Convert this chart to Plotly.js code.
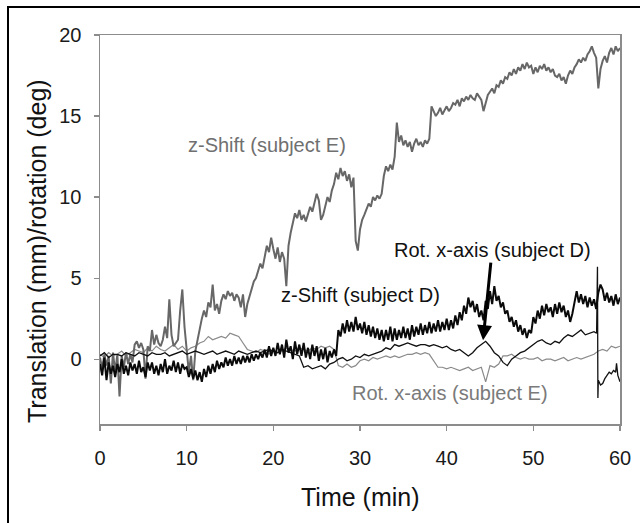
<!DOCTYPE html>
<html>
<head>
<meta charset="utf-8">
<script src="https://cdn.plot.ly/plotly-3.0.1.min.js"></script>
<style>
  html, body { margin: 0; padding: 0; background: #fff; }
  #wrap { position: relative; width: 640px; height: 523px; }
  #chart { position: absolute; left: 0; top: 0; width: 640px; height: 523px; }
  #frame { position: absolute; left: 7px; top: 6px; width: 640px; height: 530px;
           border-left: 2px solid #000; border-top: 2px solid #000; pointer-events: none; }
</style>
</head>
<body>
<div id="wrap"><div id="chart"></div><div id="frame"></div></div>
<script>
// ---- Data ----
const tickX = [0, 10, 20, 30, 40, 50, 60];
const tickY = [0, 5, 10, 15, 20];

// z-Shift (subject E), every 0.25 min from 0 to 60
const zShiftE = [
  0.1, -0.6, 0.3, -0.4,
  0.2, -1.5, 0.4, -0.8,
  0.3, -2.3, 0.2, -0.5,
  0.4, -0.3, 0.3, -0.2,
  0.9, 1.1, 0.7, 1.0,
  0.6, -1.2, 0.8, 0.5,
  1.8, 0.9, 1.5, 1.0,
  0.8, 1.2, 2.0, 1.3,
  3.7, 1.5, 0.8, 1.0,
  1.2, 3.0, 4.3, 2.0,
  0.5, -0.8, 0.2, -1.3,
  0.5, 1.2, 2.0, 2.5,
  3.0, 2.6, 3.5, 3.2,
  4.6, 3.0, 3.4, 2.8,
  3.6, 4.0, 3.7, 4.2,
  3.9, 4.1, 3.6, 4.0,
  3.8, 3.2, 4.0, 2.6,
  3.4, 3.9, 4.4, 4.8,
  5.0, 5.4, 5.9, 5.6,
  6.3, 7.0, 6.6, 7.5,
  6.8, 6.2, 6.9, 6.0,
  6.6, 6.2, 4.5, 7.0,
  7.8, 8.4, 9.0, 8.7,
  9.2, 8.6, 8.9, 8.5,
  9.0, 9.4, 9.1, 9.7,
  10.2, 9.8, 8.6, 8.9,
  9.4, 10.0, 9.7, 10.4,
  10.8, 11.5, 11.1, 11.8,
  11.3, 11.6, 11.0, 11.4,
  10.6, 11.2, 7.3, 6.7,
  8.0, 8.6, 8.9, 9.3,
  9.6, 9.4, 10.0, 9.8,
  10.1, 9.9, 10.2, 11.3,
  11.9, 11.6, 12.0, 11.7,
  12.5, 14.6, 13.4, 13.8,
  13.2, 13.5, 13.1, 13.4,
  12.8, 13.3, 13.6, 13.2,
  13.4, 13.1, 13.5, 13.3,
  13.6, 15.6, 15.3, 15.0,
  15.2, 15.5, 15.1, 15.4,
  15.6, 15.3, 15.5, 15.8,
  15.7, 16.0, 15.6, 16.1,
  15.9, 16.2, 16.0, 16.3,
  16.1, 16.0, 16.4, 16.2,
  16.0, 15.3, 15.8, 16.3,
  16.5, 16.7, 16.4, 16.9,
  16.8, 17.2, 17.0, 17.4,
  17.3, 17.7, 17.5, 17.9,
  17.6, 18.0, 17.8, 18.2,
  17.9, 18.3, 18.0, 18.1,
  17.6, 18.0, 17.7, 18.1,
  17.9, 18.2, 17.8, 18.0,
  17.7, 17.9, 17.5, 17.4,
  17.6, 17.2, 17.4, 17.0,
  17.5, 17.8, 17.6, 18.0,
  18.2, 18.5, 18.3, 18.6,
  18.4, 18.8, 19.0, 19.3,
  18.9, 18.6, 16.7, 17.9,
  18.4, 18.7, 18.3, 18.9,
  19.2, 18.8, 19.3, 19.0,
  19.2
];

// z-Shift (subject D), every 0.25 min from 0 to 60
const zShiftD = [
  -0.3, -1.0, 0.1, -1.3,
  -0.2, -0.9, -0.4, -1.1,
  -0.3, -0.8, 0.0, -0.9,
  -0.4, -1.0, -0.2, -0.7,
  -0.3, -0.9, -0.1, -0.8,
  -0.5, -1.1, -0.2, -0.7,
  -0.2, -0.9, -0.4, -1.0,
  -0.3, -0.8, 0.0, -0.9,
  -0.4, -0.7, -0.1, -0.8,
  -0.2, -0.9, -0.3, -0.6,
  -0.5, -1.1, -0.6, -1.2,
  -0.7, -1.3, -0.8, -1.4,
  -0.6, -1.1, -0.4, -0.9,
  -0.3, -0.8, -0.1, -0.6,
  -0.2, -0.5, 0.1, -0.4,
  0.0, -0.4, 0.2, -0.3,
  0.1, -0.3, 0.2, -0.2,
  0.2, -0.2, 0.3, -0.1,
  0.3, 0.0, 0.4, 0.1,
  0.6, 0.1, 0.8, 0.2,
  0.7, 0.2, 1.0, 0.3,
  0.9, 0.1, 1.2, 0.4,
  0.8, 0.0, 1.1, 0.3,
  0.9, 0.2, 1.0, 0.1,
  0.7, 0.0, 0.9, 0.2,
  0.8, -0.1, 0.6, 0.0,
  0.7, -0.2, 0.5, 0.1,
  0.6, 0.2, 1.8, 1.4,
  2.2, 1.6, 2.4, 1.7,
  2.3, 1.7, 2.6, 1.8,
  2.2, 1.6, 2.3, 1.5,
  2.1, 1.4, 2.0, 1.3,
  1.9, 1.2, 1.8, 1.1,
  1.8, 1.2, 2.0, 1.1,
  1.9, 1.2, 1.8, 1.3,
  2.0, 1.3, 1.9, 1.2,
  2.1, 1.4, 2.0, 1.5,
  2.2, 1.5, 2.1, 1.6,
  2.3, 1.6, 2.2, 1.7,
  2.4, 1.7, 2.3, 1.8,
  2.5, 1.8, 2.4, 1.9,
  2.7, 2.1, 2.9, 2.4,
  3.3, 2.8, 3.8, 3.2,
  3.6, 2.9, 3.4, 2.6,
  3.0, 2.4, 3.6, 3.1,
  4.2, 3.4, 4.5, 3.6,
  3.9, 3.2, 3.5, 2.8,
  3.0, 2.3, 2.6, 2.0,
  2.4, 1.7, 2.1, 1.5,
  1.9, 1.3, 1.8, 1.6,
  2.6, 2.2, 3.0, 2.5,
  3.3, 2.7, 3.4, 2.9,
  3.2, 2.6, 3.4, 2.8,
  3.5, 2.9, 3.3, 2.6,
  3.0, 2.3, 2.8, 3.4,
  4.2, 3.5, 4.0, 3.4,
  3.9, 3.2, 3.8, 3.3,
  3.7, 3.1, 4.1, 4.6,
  4.3, 3.6, 4.1, 3.5,
  3.9, 3.3, 4.0, 3.4,
  3.8
];

// Rot. x-axis (subject D): explicit time stamps (min) and values (deg)
const rotDTime = [
  0, 0.5, 1, 1.5, 2, 2.5, 3, 3.5, 4, 4.5, 5, 5.5, 6, 6.5, 7, 7.5, 8, 8.5, 9, 9.5,
  10, 10.5, 11, 11.5, 12, 12.5, 13, 13.5, 14, 14.5, 15, 15.5, 16, 16.5, 17, 17.5, 18, 18.5, 19, 19.5,
  20, 20.5, 21, 21.5, 22, 22.5, 23, 23.5, 24, 24.5, 25, 25.5, 26, 26.5, 27, 27.5, 28, 28.5, 29, 29.5,
  30, 30.5, 31, 31.5, 32, 32.5, 33, 33.5, 34, 34.5, 35, 35.5, 36, 36.5, 37, 37.5, 38, 38.5, 39, 39.5,
  40, 40.5, 41, 41.5, 42, 42.5, 43, 43.5, 44, 44.5, 45, 45.5, 46, 46.5, 47, 47.5, 48, 48.5, 49, 49.5,
  50, 50.5, 51, 51.5, 52, 52.5, 53, 53.5, 54, 54.5, 55, 55.5, 56, 56.5, 57, 57.3, 57.4, 57.45, 57.5,
  57.75, 58, 58.25, 58.5, 58.75, 59, 59.25, 59.5, 59.6, 59.75, 60
];
const rotD = [
  0.2, 0.4, 0.1, 0.3, 0.3, 0.2, 0.4, 0.3, 0.2, 0.4, 0.3, 0.2, 0.4, 0.3, 0.3, 0.4, 0.2, 0.3, 0.4, 0.5,
  0.3, 0.4, 0.5, 0.4, 0.3, 0.4, 0.5, 0.3, 0.4, 0.5, 0.4, 0.3, 0.5, 0.4, 0.3, 0.4, 0.5, 0.4, 0.5, 0.6,
  0.5, 0.4, 0.6, 0.5, 0.4, 0.3, 0.2, -0.5, -0.4, -0.6, -0.5, -0.4, -0.6, -0.3, -0.2, 0.0, 0.1, -0.1, 0.0, 0.2,
  0.1, 0.3, 0.2, 0.3, 0.4, 0.5, 0.7, 0.6, 0.9, 0.8, 0.9, 1.0, 0.9, 0.8, 0.9, 0.9, 0.8, 0.9, 0.8, 0.7,
  0.8, 0.6, 0.5, 0.6, 0.4, 0.2, 0.4, 0.7, 0.9, 1.1, 0.8, 0.4, 0.2, -0.2, -0.4, 0.0, 0.2, 0.4, 0.5, 0.7,
  0.9, 1.1, 1.2, 1.0, 0.9, 1.1, 1.0, 1.3, 1.5, 1.4, 1.6, 1.8, 1.5, 1.6, 1.7, 1.6, 5.7, -2.4, -1.3,
  -1.6, -1.5, -1.2, -1.0, -0.8, -0.9, -0.7, -0.8, -0.25, -1.0, -1.4
];

// Rot. x-axis (subject E), every 0.5 min from 0 to 60
const rotE = [
  0.3, 0.1, 0.4, 0.2, 0.3, 0.5, 0.2, 0.4, 0.6, 0.5,
  0.4, 0.7, 0.5, 0.8, 0.6, 0.5, 0.7, 0.9, 0.6, 0.8,
  0.5, 0.7, 0.8, 1.0, 1.1, 1.4, 1.2, 1.3, 1.4, 1.3,
  1.6, 1.5, 1.4, 1.0, 0.6, 0.5, 0.4, 0.6, 0.5, 0.3,
  0.6, 0.4, 0.5, 0.7, 0.6, 0.5, 0.7, 0.6, 0.5, 0.7,
  0.6, 0.8, 0.7, 0.8, 0.6, -0.4, -0.5, -0.3, -0.5, -0.4,
  -0.1, 0.0, -0.1, 0.1, 0.0, 0.1, 0.2, 0.1, 0.2, 0.1,
  0.2, 0.3, 0.3, 0.4, 0.3, 0.4, 0.3, -0.1, -0.5, -0.5,
  -0.6, -0.5, -0.6, -0.7, -0.6, -0.5, -0.7, -0.6, -0.5, -1.4,
  -0.4, -0.5, -0.3, 0.2, 0.2, 0.3, 0.1, 0.0, 0.1, 0.0,
  0.0, 0.1, -0.1, 0.0, 0.0, -0.1, 0.0, 0.1, -0.1, 0.0,
  0.1, 0.0, 0.1, 0.2, 0.3, 0.5, 0.6, 0.5, 0.8, 0.7,
  0.8
];

const labels = {
  zShiftE: "z-Shift (subject E)",
  zShiftD: "z-Shift (subject D)",
  rotD: "Rot. x-axis (subject D)",
  rotE: "Rot. x-axis (subject E)"
};

// time axes built from the sampling steps
function timeAxis(n, step) { const t = []; for (let i = 0; i < n; i++) t.push(i * step); return t; }
const tQuarter = timeAxis(zShiftE.length, 0.25);
const tHalf = timeAxis(rotE.length, 0.5);

const FONT = "Liberation Sans, Arial, Helvetica, sans-serif";

const traces = [
  { x: tHalf, y: rotE, mode: "lines", line: { color: "#8a8a8a", width: 1.2 }, name: labels.rotE },
  { x: tQuarter, y: zShiftE, mode: "lines", line: { color: "#676767", width: 2 }, name: labels.zShiftE },
  { x: rotDTime, y: rotD, mode: "lines", line: { color: "#111111", width: 1.3 }, name: labels.rotD },
  { x: tQuarter, y: zShiftD, mode: "lines", line: { color: "#0a0a0a", width: 2 }, name: labels.zShiftD }
];

const layout = {
  width: 640, height: 523,
  margin: { l: 100, r: 20, t: 35, b: 99 },
  paper_bgcolor: "#fff", plot_bgcolor: "#fff",
  showlegend: false,
  font: { family: FONT, color: "#1a1a1a", size: 20 },
  xaxis: {
    range: [0, 60], tickvals: tickX, ticktext: tickX.map(String),
    showgrid: false, zeroline: false,
    showline: true, mirror: true, linecolor: "#8c8c8c", linewidth: 1.5,
    ticks: "outside", ticklen: 5, tickwidth: 1.2, tickcolor: "#8c8c8c",
    ticklabelstandoff: 10,
    tickfont: { family: FONT, size: 20, color: "#1a1a1a" }
  },
  yaxis: {
    range: [-4, 20], tickvals: tickY, ticktext: tickY.map(String),
    showgrid: false, zeroline: false,
    showline: true, mirror: true, linecolor: "#8c8c8c", linewidth: 1.5,
    ticks: "outside", ticklen: 5, tickwidth: 1.2, tickcolor: "#8c8c8c",
    ticklabelstandoff: 8,
    tickfont: { family: FONT, size: 20, color: "#1a1a1a" }
  },
  annotations: [
    { xref: "paper", yref: "paper", x: 0.5, y: -0.188, xanchor: "center", yanchor: "middle",
      text: "Time (min)", showarrow: false, font: { family: FONT, size: 25, color: "#111" } },
    { xref: "paper", yref: "paper", x: -0.121, y: 0.445, xanchor: "center", yanchor: "middle",
      text: "Translation (mm)/rotation (deg)", textangle: -90, showarrow: false,
      font: { family: FONT, size: 25, color: "#111" } },
    { x: 19.27, y: 13.2, text: labels.zShiftE, showarrow: false,
      font: { family: FONT, size: 20, color: "#707070" } },
    { x: 30.0, y: 3.95, text: labels.zShiftD, showarrow: false,
      font: { family: FONT, size: 20, color: "#111" } },
    { x: 40.4, y: -2.1, text: labels.rotE, showarrow: false,
      font: { family: FONT, size: 20, color: "#7a7a7a" } },
    { x: 44.2, y: 1.17, text: labels.rotD, showarrow: true,
      ax: 9, ay: -90, arrowhead: 2, arrowsize: 1, arrowwidth: 3, arrowcolor: "#000",
      font: { family: FONT, size: 20, color: "#111" } }
  ]
};

Plotly.newPlot("chart", traces, layout, { staticPlot: true, displayModeBar: false });
</script>
</body>
</html>
